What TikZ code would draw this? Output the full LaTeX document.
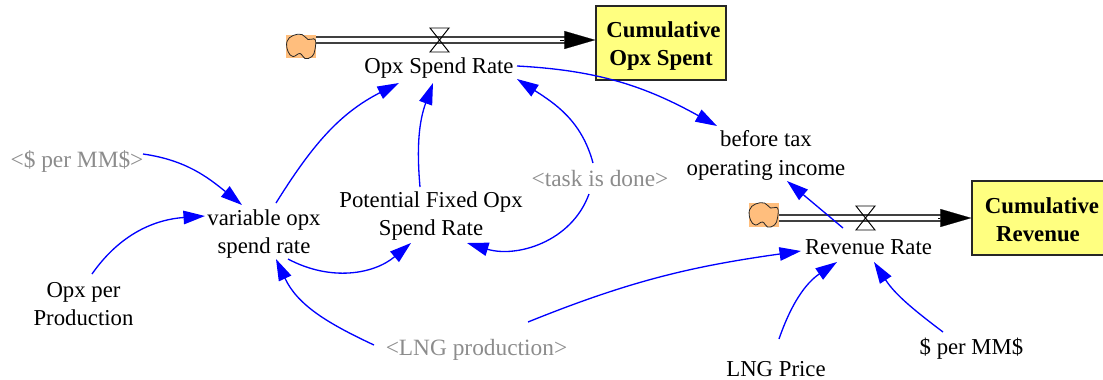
\documentclass[tikz,border=0pt]{standalone}
\usepackage{fontspec}
\setmainfont{Liberation Serif}
\usetikzlibrary{arrows.meta}
\definecolor{stockfill}{RGB}{255,255,128}
\definecolor{cloudfill}{RGB}{255,190,125}
\definecolor{shadowtext}{RGB}{140,140,140}
\tikzset{x=.02cm,y=.02cm,
 var/.style={align=center,inner sep=0pt,font=\fontsize{12.95}{16.2}\selectfont},
 shadow/.style={var,text=shadowtext,font=\fontsize{13.3}{16.2}\selectfont},
 stock/.style={draw=black!85,line width=.8pt,fill=stockfill,align=center,inner sep=0pt,
  font=\fontsize{13}{16}\selectfont\bfseries},
 cloudbox/.style={fill=cloudfill,inner sep=0pt,minimum width=.6cm,minimum height=.47cm},
 link/.style={draw=blue,line width=.75pt,-{Triangle[length=.43cm,width=.27cm]}},
 pipe/.style={draw=black!75,line width=.8pt,double=white,double distance=.092cm},
 pipehead/.style={draw=black,line width=.1pt,-{Triangle[length=.62cm,width=.36cm]}},
 valveshape/.pic={\draw[black,line width=.55pt] (-9.5,12) -- (9.5,12) -- (-9.5,-12) -- (9.5,-12) -- cycle;},
 cloudline/.pic={\draw[black!85,line width=.45pt] plot[smooth cycle,tension=.7] coordinates
  {(-14,5) (-8,11) (1,12) (7,7) (14,7) (14,-3) (11,-10) (4,-12) (-1,-7) (-8,-10) (-13,-5)};},
}

\begin{document}
\begin{tikzpicture}
    \useasboundingbox (0,0) rectangle (1103,-379);

    % opx stock and flow
    \node[cloudbox] (cloudopx) at (301,-46.5) {};
    \pic at (cloudopx.center) {cloudline};
    \coordinate (valveopx) at (439.5,-40);
    \node[stock,minimum width=2.6cm,minimum height=1.48cm] (opxspent) at (661,-43) {\rule{0pt}{12.5pt}\hspace{.1cm}Cumulative\\Opx Spent};
    \draw[pipe] (cloudopx.east |- valveopx) -- (565,-40);
    \draw[pipehead] (560,-40) -- (opxspent.west |- valveopx);
    \pic at (valveopx) {valveshape};

    % revenue stock and flow
    \node[cloudbox] (cloudrev) at (763.5,-215) {};
    \pic at (cloudrev.center) {cloudline};
    \coordinate (valverev) at (865.5,-218);
    \node[stock,minimum width=2.64cm,minimum height=1.48cm] (revenue) at (1038,-218) {\rule{0pt}{11pt}\hspace{.16cm}Cumulative\\Revenue};
    \draw[pipe] (cloudrev.east |- valverev) -- (945,-218);
    \draw[pipehead] (938,-218) -- (revenue.west |- valverev);
    \pic at (valverev) {valveshape};

    % variables
    \node[var] (spendrate) at (439,-68) {Opx Spend Rate};
    \node[var] (beforetax) at (766,-155.5) {before tax\\operating income};
    \node[shadow] (taskdone) at (600,-179) {<task is done>};
    \node[var] (fixedrate) at (431,-216) {Potential Fixed Opx\\Spend Rate};
    \node[var] (varrate) at (264,-234) {variable opx\\spend rate};
    \node[shadow] (dollarshadow) at (77,-162) {<\$ per MM\$>};
    \node[var] (opxprod) at (83.5,-304) {Opx per\\Production};
    \node[shadow] (lngprod) at (476.5,-350) {<LNG production>};
    \node[var] (revrate) at (868.5,-247) {Revenue Rate};
    \node[var] (lngprice) at (776,-369) {LNG Price};
    \node[var] (dollarmm) at (971.5,-349) {\$ per MM\$};

    % links
    \draw[link] ([shift={(78,2)}]spendrate.center) to[out=-3,in=151] ([shift={(-49,29.5)}]beforetax.center);
    \draw[link] ([shift={(12,31)}]varrate.center) to[out=58,in=207] ([shift={(-40,-15)}]spendrate.center);
    \draw[link] ([shift={(-11,29)}]fixedrate.center) to[out=95,in=250] ([shift={(-6,-15)}]spendrate.center);
    \draw[link] ([shift={(-7,16)}]taskdone.center) to[out=105,in=327] ([shift={(78,-11)}]spendrate.center);
    \draw[link] ([shift={(-11,-15)}]taskdone.center) to[out=-110,in=343] ([shift={(36,-27)}]fixedrate.center);
    \draw[link] ([shift={(24,-25)}]varrate.center) to[out=-28,in=220] ([shift={(-20,-27)}]fixedrate.center);
    \draw[link] ([shift={(66,8)}]dollarshadow.center) to[out=-8,in=141] ([shift={(-22,29)}]varrate.center);
    \draw[link] ([shift={(8.5,30)}]opxprod.center) to[out=55,in=184] ([shift={(-59,18)}]varrate.center);
    \draw[link] ([shift={(-102.5,5)}]lngprod.center) to[out=155,in=295] ([shift={(12,-25)}]varrate.center);
    \draw[link] ([shift={(51.5,28)}]lngprod.center) to[out=22,in=188] ([shift={(-67.5,-4)}]revrate.center);
    \draw[link] ([shift={(3,30)}]lngprice.center) to[out=71,in=214] ([shift={(-31.5,-15)}]revrate.center);
    \draw[link] ([shift={(-28.5,17)}]dollarmm.center) to[out=143,in=303] ([shift={(5.5,-15)}]revrate.center);
    \draw[link] ([shift={(-25.5,19)}]revrate.center) -- ([shift={(21,-25.5)}]beforetax.center);
\end{tikzpicture}
\end{document}
